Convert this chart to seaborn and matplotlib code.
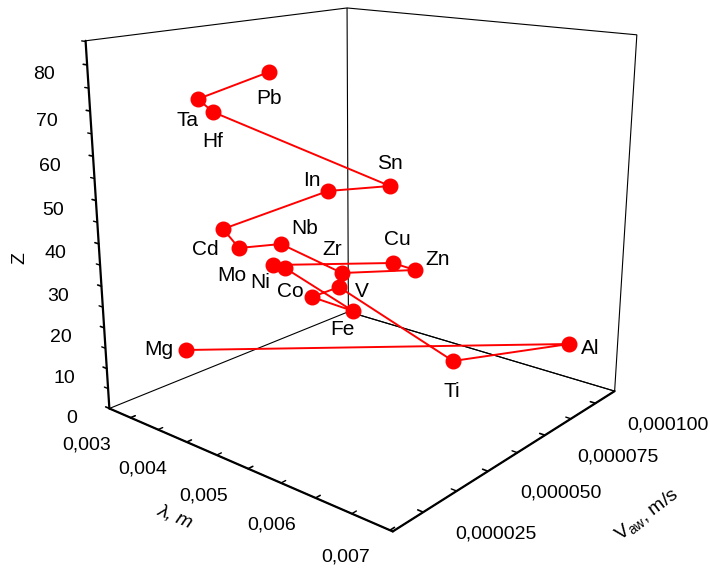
import numpy as np
import matplotlib
matplotlib.use("Agg")
import matplotlib.pyplot as plt
from matplotlib.ticker import MultipleLocator, NullFormatter
import seaborn as sns

# ---- data ----
elements = ["Mg", "Al", "Ti", "V", "Co", "Fe", "Ni", "Mo", "Cu", "Zn",
            "Zr", "Nb", "Cd", "", "In", "Sn", "Hf", "Ta", "Pb"]
lam_m = [0.003079, 0.006634, 0.006528, 0.004056, 0.004451, 0.005043, 0.003553,
         0.004937, 0.004566, 0.005048, 0.005477, 0.004348, 0.004948, 0.004179,
         0.004222, 0.004768, 0.004104, 0.003613, 0.004970]
v_aw = [3.256e-5, 9.966e-5, 5.023e-5, 7.024e-5, 5.009e-5, 5.138e-5, 6.033e-5,
        2.554e-5, 8.013e-5, 7.652e-5, 3.662e-5, 4.137e-5, 1.459e-5, 2.535e-5,
        6.211e-5, 7.323e-5, 2.495e-5, 2.995e-5, 2.495e-5]
z_num = [12, 13, 22, 23, 27, 26, 28, 42, 29, 30, 40, 41, 48, 47, 49, 50, 72, 73, 82]

lam_lim = (0.002599, 0.007036)
v_lim = (1.43e-5, 1.103e-4)
z_lim = (0, 85.14)

lam_ticks = [0.003, 0.004, 0.005, 0.006, 0.007]
v_ticks = [0.000025, 0.000050, 0.000075, 0.000100]
z_ticks = [0, 10, 20, 30, 40, 50, 60, 70, 80]

# ---- style ----
label_offset_px = {"Mg": (-27, -1), "Al": (21, 3), "Ti": (-1, 29), "V": (23, 3),
                   "Co": (-22, -7), "Fe": (-11, 17), "Ni": (-25, 14), "Mo": (-41, 9),
                   "Cu": (4, -25), "Zn": (23, -11), "Zr": (-10, -25), "Nb": (24, -16),
                   "Cd": (-34, 0), "In": (-16, -12), "Sn": (0, -24), "Hf": (0, 29),
                   "Ta": (-10, 21), "Pb": (0, 25)}

sns.set_theme(style="white")
plt.rcParams["font.family"] = ["Liberation Sans", "DejaVu Sans"]
plt.rcParams.update({"text.color": "black", "axes.labelcolor": "black",
                     "xtick.color": "black", "ytick.color": "black"})

W, H = 710, 572
fig = plt.figure(figsize=(W / 100, H / 100), dpi=100)
L, cx, cy = 630.17, 357.63, 336.90
ax = fig.add_axes([(cx - L / 2) / W, (cy - L / 2) / H, L / W, L / H], projection="3d")
ax.view_init(elev=16.316, azim=-49.763)
ax.set_proj_type("persp", focal_length=0.3565)
ax.set_box_aspect((0.9947, 0.9926, 1.0))
ax.set_xlim(*lam_lim)
ax.set_ylim(*v_lim)
ax.set_zlim(*z_lim)
ax.grid(False)

for a_ in (ax.xaxis, ax.yaxis, ax.zaxis):
    a_.pane.fill = False
    a_.pane.set_alpha(1.0)
    a_.pane.set_edgecolor("black")
    a_.pane.set_linewidth(0.8)
    a_.line.set_color("black")
    a_.line.set_linewidth(1.6)
    a_._axinfo["tick"]["inward_factor"] = 0.0
    a_._axinfo["tick"]["outward_factor"] = 0.2
    a_._axinfo["tick"]["linewidth"] = {True: 1.2, False: 1.0}
    a_.set_major_formatter(NullFormatter())
    a_.set_tick_params(which="both", label1On=False)
    a_.label.set_visible(False)
    a_.offsetText.set_visible(False)

# z axis on the left front edge
ax.zaxis._axinfo["juggled"] = (1, 2, 0)

ax.xaxis.set_major_locator(MultipleLocator(0.001))
ax.xaxis.set_minor_locator(MultipleLocator(0.0005))
ax.yaxis.set_major_locator(MultipleLocator(0.000025))
ax.yaxis.set_minor_locator(MultipleLocator(0.0000125))
ax.zaxis.set_major_locator(MultipleLocator(10))
ax.zaxis.set_minor_locator(MultipleLocator(5))

ax.plot(lam_m, v_aw, z_num, color="red", lw=1.4, marker="o", ms=10.5, zorder=3)

# 2D text anchored at the projected 3D positions
M = ax.get_proj()


def text_px(x, y, z, s, dx, dy, ha, size):
    p = M @ np.array([x, y, z, 1.0])
    u, v = p[0] / p[3], p[1] / p[3]
    ax.annotate(s, xy=(u, v), xycoords="data", xytext=(dx, -dy), textcoords="offset pixels",
                ha=ha, va="center", fontsize=size, color="black", zorder=5,
                annotation_clip=False)


for name, x, y, z in zip(elements, lam_m, v_aw, z_num):
    if name:
        dx, dy = label_offset_px[name]
        text_px(x, y, z, name, dx, dy + 1, "center", 15)

# tick labels (decimal comma)
for t in lam_ticks:
    text_px(t, v_lim[0], 0, f"{t:.3f}".replace(".", ","), -20, 27, "right", 14)
for t in v_ticks:
    text_px(lam_lim[1], t, 0, f"{t:.6f}".replace(".", ","), 32, 22, "left", 14)
for t in z_ticks:
    text_px(lam_lim[0], v_lim[0], t, f"{t:d}", -32, 10, "right", 14)

fig.text(20 / W, 1 - 258 / H, "Z", rotation=90, ha="center", va="center", fontsize=14)
fig.text(175 / W, 1 - 517 / H, "λ, m", rotation=-23, ha="center", va="center",
         fontsize=14, style="italic")
fig.text(647 / W, 1 - 515 / H, r"$\mathregular{V_{aw}}$, m/s", rotation=37,
         ha="center", va="center", fontsize=14)

fig.savefig("out.png", dpi=100)
